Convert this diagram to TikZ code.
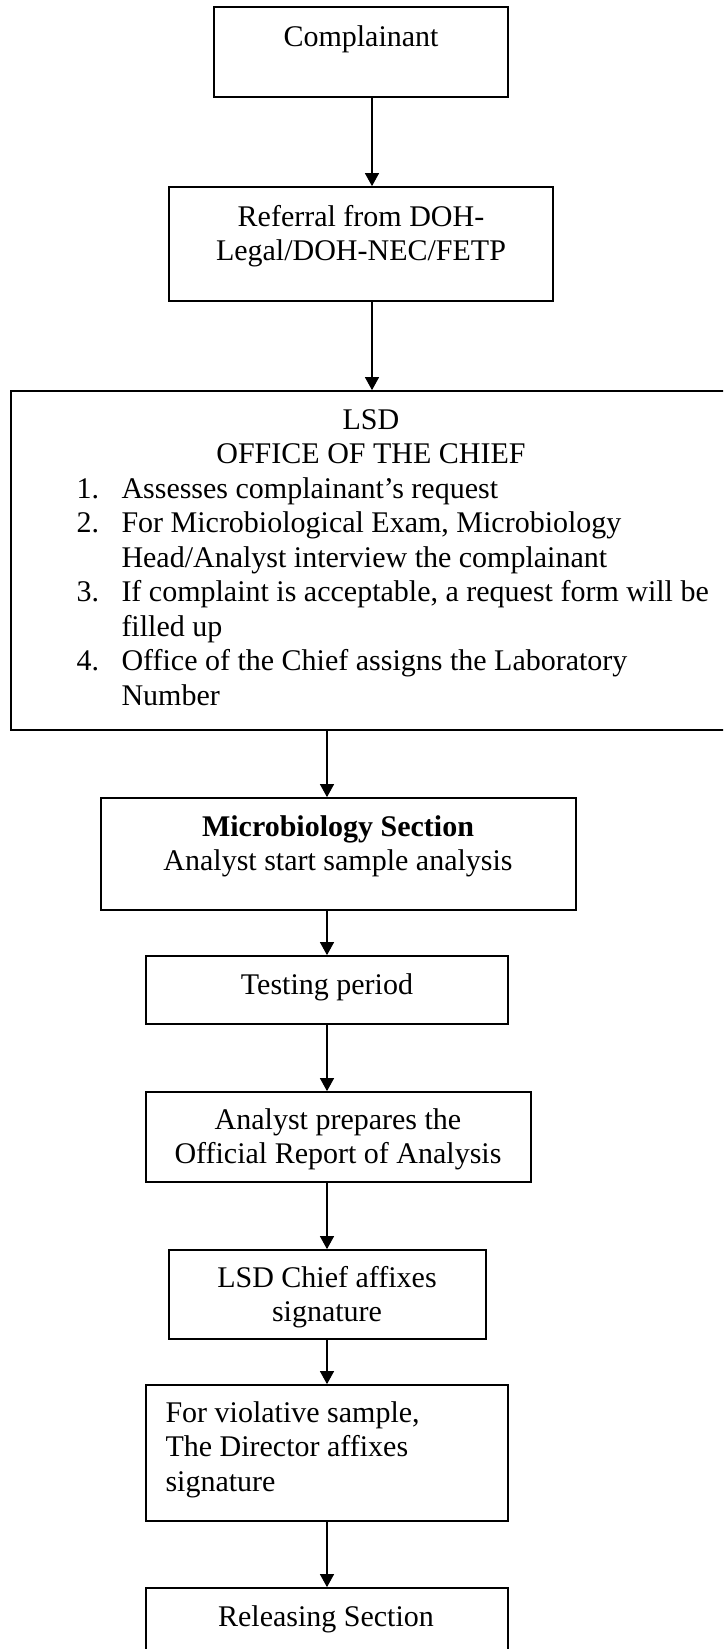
\documentclass[tikz,border=0pt]{standalone}
\usepackage{fontspec}
\setmainfont{Liberation Serif}
\usetikzlibrary{arrows.meta,fit,calc}
\begin{document}
\begin{tikzpicture}[x=0.4pt,y=-0.4pt,
  box/.style={draw, line width=0.7pt, inner sep=0pt},
  txt/.style={inner sep=0pt, font=\fontsize{12}{13.8}\selectfont},
  arr/.style={line width=0.45pt, -{Triangle[length=5.2pt,width=5.6pt]}}]
\useasboundingbox (0,0) rectangle (723,1649);
\clip (0,0) rectangle (723,1649);

% boxes
\node[box, fit={(214,7) (508,97)}] (cmp) {};
\node[box, fit={(169,187) (553,301)}] (ref) {};
\node[box, fit={(11,391) (731,730)}] (lsd) {};
\node[box, fit={(101,798) (576,910)}] (mic) {};
\node[box, fit={(146,956) (508,1024)}] (tst) {};
\node[box, fit={(146,1092) (531,1182)}] (rep) {};
\node[box, fit={(169,1250) (486,1339)}] (chf) {};
\node[box, fit={(146,1385) (508,1521)}] (dir) {};
\node[box, fit={(146,1588) (508,1700)}] (rel) {};

% texts (multi-line nodes are anchored on their last baseline)
\node[txt, anchor=base] (cmpT) at (361,46) {Complainant};
\node[txt, anchor=base, align=center] (refT) at (361,260.5) {Referral from DOH-\\Legal/DOH-NEC/FETP};
\node[txt, anchor=base] (lsdT1) at (371,429) {LSD};
\node[txt, anchor=base] (lsdT2) at (371,463.5) {OFFICE OF THE CHIEF};
\node[txt, anchor=base west] (lsdL) at (76,498) {\begin{tabular}[t]{@{}p{18pt}@{}l@{}}
1. & Assesses complainant’s request\\
2. & For Microbiological Exam, Microbiology\\
   & Head/Analyst interview the complainant\\
3. & If complaint is acceptable, a request form will be\\
   & filled up\\
4. & Office of the Chief assigns the Laboratory\\
   & Number
\end{tabular}};
\node[txt, anchor=base, align=center] (micT) at (338,870.5) {\textbf{Microbiology Section}\\Analyst start sample analysis};
\node[txt, anchor=base] (tstT) at (327,994) {Testing period};
\node[txt, anchor=base, align=center] (repT) at (338,1163.5) {Analyst prepares the\\Official Report of Analysis};
\node[txt, anchor=base, align=center] (chfT) at (327,1321.5) {LSD Chief affixes\\signature};
\node[txt, anchor=base west, align=left] (dirT) at (165,1491) {For violative sample,\\The Director affixes\\signature};
\node[txt, anchor=base] (relT) at (326,1626) {Releasing Section};

% connector columns
\coordinate (colA) at (372,0);
\coordinate (colB) at (327,0);

% connectors
\draw[arr] (colA |- cmp.south) -- (colA |- ref.north);
\draw[arr] (colA |- ref.south) -- (colA |- lsd.north);
\draw[arr] (colB |- lsd.south) -- (colB |- mic.north);
\draw[arr] (colB |- mic.south) -- (colB |- tst.north);
\draw[arr] (colB |- tst.south) -- (colB |- rep.north);
\draw[arr] (colB |- rep.south) -- (colB |- chf.north);
\draw[arr] (colB |- chf.south) -- (colB |- dir.north);
\draw[arr] (colB |- dir.south) -- (colB |- rel.north);
\end{tikzpicture}
\end{document}
